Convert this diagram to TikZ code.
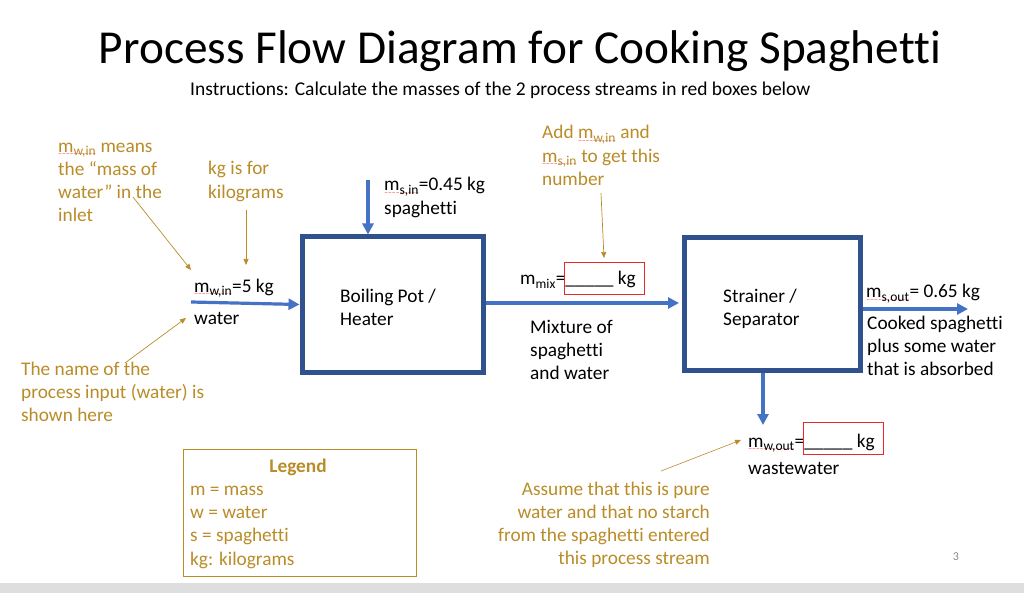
\documentclass[tikz,border=0pt]{standalone}
\usepackage{fontspec}
\setmainfont{Carlito}[Ligatures={NoCommon,NoContextual,NoRare},RawFeature=-calt,RawFeature=-clig]
\newfontfamily\wavefont{DejaVu Sans}
\usetikzlibrary{arrows.meta,positioning}
\definecolor{boxblue}{RGB}{47,82,143}
\definecolor{arrblue}{RGB}{68,114,196}
\definecolor{gold}{RGB}{185,140,40}
\definecolor{redbox}{RGB}{230,40,40}
\definecolor{pgnum}{RGB}{137,137,137}
\definecolor{barg}{RGB}{222,222,222}
\newsavebox\sqbox
\newcommand\sqw[1]{\sbox\sqbox{#1}\rlap{\raisebox{-3.6pt}[0pt][0pt]{\color{red}\wavefont\fontsize{4.5}{5}\selectfont\hbox to\wd\sqbox{\xleaders\hbox{\char"223C}\hfill}}}\usebox\sqbox}
\newcommand\sub[1]{\textsubscript{#1}}
\newcommand\tiX{t\kern0pt i}
\tikzset{
  txt/.style={font=\fontsize{19.3}{23.3}\selectfont, inner sep=0pt, align=left, anchor=base west, text=black},
  note/.style={txt, text=gold},
  procbox/.style={draw=boxblue, line width=5pt, minimum width=181pt, minimum height=135pt, inner sep=0pt},
  flow/.style={draw=arrblue, line width=3.2pt, -{Triangle[length=11pt,width=11pt]}},
  pointer/.style={draw=gold, line width=0.7pt, -{Triangle[length=6pt,width=5pt]}},
  ansbox/.style={draw=redbox, line width=1.2pt, inner sep=0pt}
}
\begin{document}
\begin{tikzpicture}[x=1pt,y=-1pt]
\useasboundingbox (0,0) rectangle (1024,593);
\fill[barg] (0,583) rectangle (1024,593);

% title (multi-line nodes are anchored at the baseline of their last line)
\node[inner sep=0pt, anchor=base, font=\fontsize{47.3}{58}\selectfont] (title) at (520,64) {Process Flow Diagram for Cooking Spaghet\tiX};
\node[txt, font=\fontsize{19.5}{23.3}\selectfont] (instr) at (190,96) {Instruc\tiX ons: Calculate the masses of the 2 process streams in red boxes below};

% process boxes
\node[procbox, anchor=north west] (pot) at (299.5,234.5) {};
\node[txt] (pottxt) at (340,325.3) {Boiling Pot /\\Heater};
\node[procbox, minimum width=176pt, minimum height=133pt, anchor=north west] (strain) at (682,235) {};
\node[txt] (straintxt) at (723,325.3) {Strainer /\\Separator};

% water inlet
\coordinate (win) at (191,302);
\draw[flow] (win) -- (pot.west);
\node[txt] (winlbl) at (194,292) {\sqw{m\sub{w,in}}=5 kg};
\node[txt] (winname) at (194,324) {water};

% spaghetti inlet
\coordinate (sin) at (368,180);
\draw[flow] (sin) -- (sin |- pot.north);
\node[txt] (sinlbl) at (384,214.3) {\sqw{m\sub{s,in}}=0.45 kg\\spaghet\tiX};

% mixture
\coordinate (mixend) at (679,303);
\draw[flow] (pot.east |- mixend) -- (mixend);
\node[txt] (mixlbl) at (520,285) {m\sub{mix}=\_\_\_\_\_ kg};
\node[ansbox, anchor=north west, minimum width=80pt, minimum height=32pt] (mixbox) at (564,262) {};
\node[txt] (mixname) at (530,379.6) {Mixture of\\spaghet\tiX\\and water};

% spaghetti out
\coordinate (soutend) at (968,309);
\draw[flow] (strain.east |- soutend) -- (soutend);
\node[txt] (soutlbl) at (866,298) {\sqw{m\sub{s,out}}= 0.65 kg};
\node[txt] (soutname) at (867,375.6) {Cooked spaghet\tiX\\plus some water\\that is absorbed};

% water out
\coordinate (wout) at (763,425);
\draw[flow] (strain.south -| wout) -- (wout);
\node[txt] (woutlbl) at (748,447) {\sqw{m\sub{w,out}}=\_\_\_\_\_ kg};
\node[ansbox, anchor=north west, minimum width=80pt, minimum height=32pt] (woutbox) at (803,422) {};
\node[txt] (woutname) at (748,474) {wastewater};

% annotations
\node[note] (n1) at (58,222) {\sqw{m\sub{w,in}} means\\the \char"201C mass of\\water\char"201D{} in the\\inlet};
\coordinate (n1a) at (133,197);
\coordinate (n1b) at (191,270);
\draw[pointer] (n1a) -- (n1b);

\node[note] (n2) at (208,198.3) {kg is for\\kilograms};
\coordinate (n2a) at (246,210);
\coordinate (n2b) at (246,265);
\draw[pointer] (n2a) -- (n2b);

\node[note] (n3) at (21,421.6) {The name of the\\process input (water) is\\shown here};
\coordinate (n3a) at (125,363);
\coordinate (n3b) at (186,318);
\draw[pointer] (n3a) -- (n3b);

\node[note] (n4) at (542,185.6) {Add \sqw{m\sub{w,in}} and\\\sqw{m\sub{s,in}} to get this\\number};
\coordinate (n4a) at (601,193);
\coordinate (n4b) at (604,258);
\draw[pointer] (n4a) -- (n4b);

\node[note, align=right, anchor=base east] (n5) at (710,564.9) {Assume that this is pure\\water and that no starch\\from the spaghet\tiX{} entered\\this process stream};
\coordinate (n5a) at (661,471);
\coordinate (n5b) at (741,440);
\draw[pointer, line width=0.6pt] (n5a) -- (n5b);

% legend
\node[draw=gold, line width=1pt, anchor=north west, minimum width=233pt, minimum height=127pt, inner sep=0pt] (legend) at (183,449) {};
\node[note, anchor=base, font=\fontsize{19.3}{23.3}\selectfont\bfseries] (legtitle) at (298,472) {Legend};
\node[note] (legtxt) at (190,565) {m = mass\\w = water\\s = spaghet\tiX\\kg: kilograms};

% page number
\node[inner sep=0pt, text=pgnum, font=\fontsize{12}{14}\selectfont] (page) at (956,557) {3};
\end{tikzpicture}
\end{document}
